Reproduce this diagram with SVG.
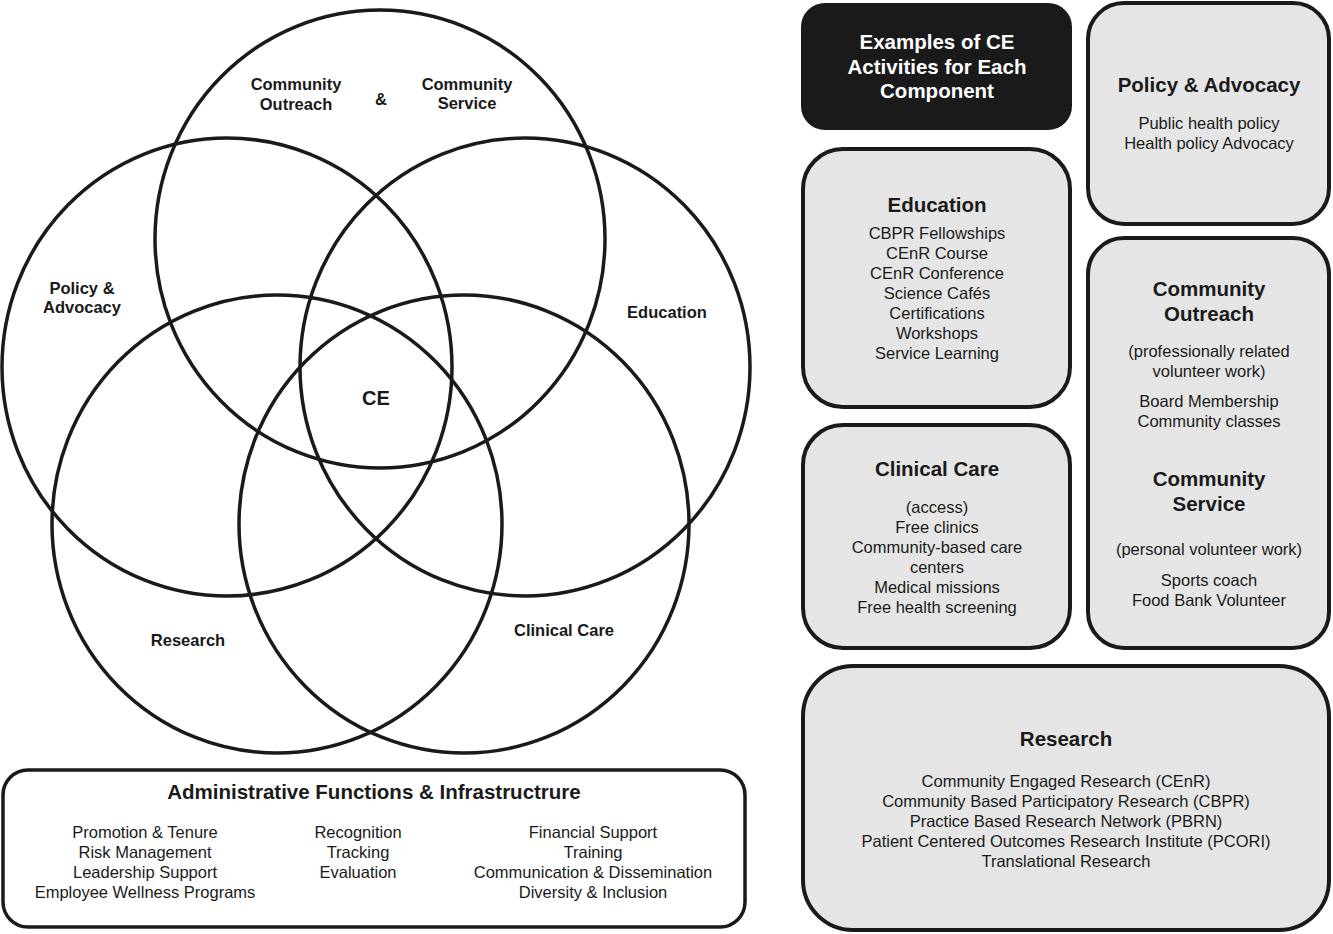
<svg xmlns="http://www.w3.org/2000/svg" width="1333" height="934" viewBox="0 0 1333 934">
<style>
  .ring { fill: none; stroke: #1a1a1a; stroke-width: 3.5; }
  .box { fill: #e5e5e5; stroke: #1a1a1a; stroke-width: 4; }
  .dark { fill: #1a1a1a; stroke: #1a1a1a; stroke-width: 2; }
  .admin { fill: #ffffff; stroke: #1a1a1a; stroke-width: 3.5; }
  text { font-family: "Liberation Sans", Arial, Helvetica, sans-serif; text-anchor: middle; fill: #1a1a1a; }
  .vl { font-size: 16.5px; font-weight: bold; }
  .ce { font-size: 20px; font-weight: bold; }
  .h { font-size: 20.5px; font-weight: bold; }
  .hw { font-size: 20.5px; font-weight: bold; fill: #ffffff; }
  .it { font-size: 16.5px; }
</style>
<rect width="1333" height="934" fill="#ffffff"/>

<g id="venn">
  <g id="circle-community"><ellipse class="ring" cx="380" cy="239" rx="225" ry="229"/></g>
  <g id="circle-policy"><ellipse class="ring" cx="227" cy="367" rx="225" ry="229"/></g>
  <g id="circle-education"><ellipse class="ring" cx="525" cy="367" rx="225" ry="229"/></g>
  <g id="circle-research"><ellipse class="ring" cx="277" cy="524" rx="225" ry="229"/></g>
  <g id="circle-clinical"><ellipse class="ring" cx="464" cy="524" rx="225" ry="229"/></g>
  <g id="venn-labels">
    <text class="vl" x="296" y="90">Community</text>
    <text class="vl" x="296" y="110">Outreach</text>
    <text class="vl" x="381" y="105">&amp;</text>
    <text class="vl" x="467" y="90">Community</text>
    <text class="vl" x="467" y="109">Service</text>
    <text class="vl" x="82" y="294">Policy &amp;</text>
    <text class="vl" x="82" y="313">Advocacy</text>
    <text class="vl" x="667" y="318">Education</text>
    <text class="ce" x="376" y="405">CE</text>
    <text class="vl" x="188" y="646">Research</text>
    <text class="vl" x="564" y="636">Clinical Care</text>
  </g>
</g>

<g id="admin">
  <rect class="admin" x="3" y="770" width="742" height="157" rx="25"/>
  <text class="h" x="374" y="799">Administrative Functions &amp; Infrastructrure</text>
  <text class="it" x="145" y="838">Promotion &amp; Tenure</text>
  <text class="it" x="145" y="858">Risk Management</text>
  <text class="it" x="145" y="878">Leadership Support</text>
  <text class="it" x="145" y="898">Employee Wellness Programs</text>
  <text class="it" x="358" y="838">Recognition</text>
  <text class="it" x="358" y="858">Tracking</text>
  <text class="it" x="358" y="878">Evaluation</text>
  <text class="it" x="593" y="838">Financial Support</text>
  <text class="it" x="593" y="858">Training</text>
  <text class="it" x="593" y="878">Communication &amp; Dissemination</text>
  <text class="it" x="593" y="898">Diversity &amp; Inclusion</text>
</g>

<g id="examples-title">
  <rect class="dark" x="802" y="4" width="269" height="125" rx="23"/>
  <text class="hw" x="937" y="49">Examples of CE</text>
  <text class="hw" x="937" y="74">Activities for Each</text>
  <text class="hw" x="937" y="98">Component</text>
</g>

<g id="box-policy">
  <rect class="box" x="1088" y="3" width="241" height="221" rx="36"/>
  <text class="h" x="1209" y="92">Policy &amp; Advocacy</text>
  <text class="it" x="1209" y="129">Public health policy</text>
  <text class="it" x="1209" y="149">Health policy Advocacy</text>
</g>

<g id="box-education">
  <rect class="box" x="803" y="149" width="267" height="258" rx="40"/>
  <text class="h" x="937" y="212">Education</text>
  <text class="it" x="937" y="239">CBPR Fellowships</text>
  <text class="it" x="937" y="259">CEnR Course</text>
  <text class="it" x="937" y="279">CEnR Conference</text>
  <text class="it" x="937" y="299">Science Cafés</text>
  <text class="it" x="937" y="319">Certifications</text>
  <text class="it" x="937" y="339">Workshops</text>
  <text class="it" x="937" y="359">Service Learning</text>
</g>

<g id="box-community">
  <rect class="box" x="1088" y="238" width="241" height="410" rx="36"/>
  <text class="h" x="1209" y="296">Community</text>
  <text class="h" x="1209" y="321">Outreach</text>
  <text class="it" x="1209" y="357">(professionally related</text>
  <text class="it" x="1209" y="377">volunteer work)</text>
  <text class="it" x="1209" y="407">Board Membership</text>
  <text class="it" x="1209" y="427">Community classes</text>
  <text class="h" x="1209" y="486">Community</text>
  <text class="h" x="1209" y="511">Service</text>
  <text class="it" x="1209" y="555">(personal volunteer work)</text>
  <text class="it" x="1209" y="586">Sports coach</text>
  <text class="it" x="1209" y="606">Food Bank Volunteer</text>
</g>

<g id="box-clinical">
  <rect class="box" x="803" y="425" width="267" height="223" rx="40"/>
  <text class="h" x="937" y="476">Clinical Care</text>
  <text class="it" x="937" y="513">(access)</text>
  <text class="it" x="937" y="533">Free clinics</text>
  <text class="it" x="937" y="553">Community-based care</text>
  <text class="it" x="937" y="573">centers</text>
  <text class="it" x="937" y="593">Medical missions</text>
  <text class="it" x="937" y="613">Free health screening</text>
</g>

<g id="box-research">
  <rect class="box" x="803" y="666" width="526" height="264" rx="50"/>
  <text class="h" x="1066" y="746">Research</text>
  <text class="it" x="1066" y="787">Community Engaged Research (CEnR)</text>
  <text class="it" x="1066" y="807">Community Based Participatory Research (CBPR)</text>
  <text class="it" x="1066" y="827">Practice Based Research Network (PBRN)</text>
  <text class="it" x="1066" y="847">Patient Centered Outcomes Research Institute (PCORI)</text>
  <text class="it" x="1066" y="867">Translational Research</text>
</g>

<g id="connectors"></g>
</svg>
